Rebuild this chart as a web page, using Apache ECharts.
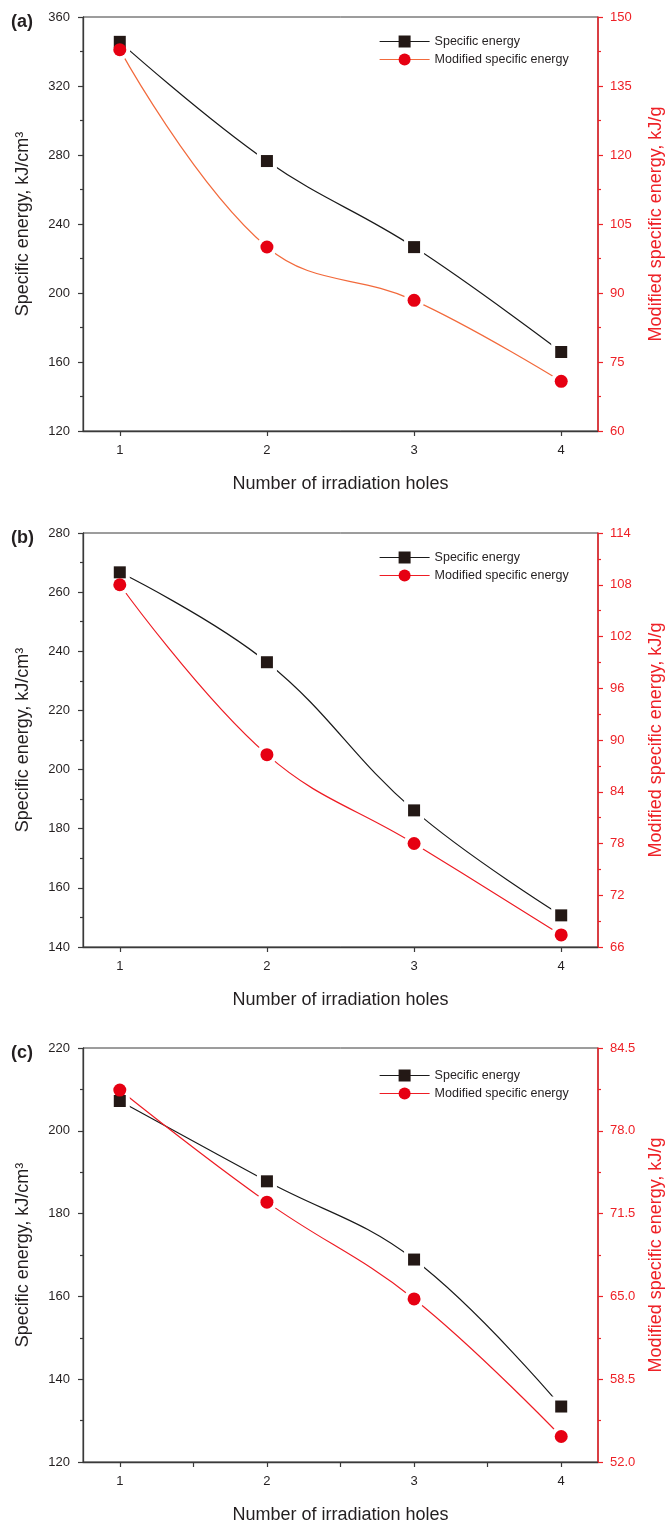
<!DOCTYPE html>
<html>
<head>
<meta charset="utf-8">
<script src="https://cdn.jsdelivr.net/npm/echarts@6/dist/echarts.min.js"></script>
<style>
html,body{margin:0;padding:0;background:#fff;}
#chart{width:669px;height:1525px;}
</style>
</head>
<body>
<div id="chart"></div>
<script>
// ---- data ----
const holes = [1, 2, 3, 4];
const xTicksMajor = [1, 2, 3, 4];
const xTicksC = [1, 1.5, 2, 2.5, 3, 3.5, 4];
const panelLabels = ['(a)', '(b)', '(c)'];
const seriesNames = ['Specific energy', 'Modified specific energy'];
const xTitle = 'Number of irradiation holes';
const leftTitle = 'Specific energy, kJ/cm³';
const rightTitle = 'Modified specific energy, kJ/g';

const specificA = [345.6, 276.5, 226.6, 165.8];
const modifiedA = [142.9, 100.0, 88.4, 70.8];
const specificB = [266.7, 236.3, 186.2, 150.7];
const modifiedB = [108.0, 88.3, 78.0, 67.4];
const specificC = [207.2, 187.8, 168.9, 133.4];
const modifiedC = [81.2, 72.4, 64.8, 54.0];

// axis ranges [min, max, interval]
const leftRangeA = [120, 360, 40];
const rightRangeA = [60, 150, 15];
const leftRangeB = [140, 280, 20];
const rightRangeB = [66, 114, 6];
const leftRangeC = [120, 220, 20];
const rightRangeC = [52, 84.5, 6.5];

// ---- styling ----
const FONT = '"Liberation Sans", Arial, sans-serif';
const DARK = '#231f20';
const RED = '#ee2127';
const MARK_RED = '#e60012';
const SQUARE = '#231815';
const panels = [
  {spec: specificA, mod: modifiedA, left: leftRangeA, right: rightRangeA, top: 17, modLine: '#f26a3c', xt: xTicksMajor, legendTop: 35, labelTop: 13, rightDec: 0},
  {spec: specificB, mod: modifiedB, left: leftRangeB, right: rightRangeB, top: 533, modLine: '#ee1c24', xt: xTicksMajor, legendTop: 551, labelTop: 529, rightDec: 0},
  {spec: specificC, mod: modifiedC, left: leftRangeC, right: rightRangeC, top: 1048, modLine: '#ee1c24', xt: xTicksC, legendTop: 1069, labelTop: 1044, rightDec: 1}
];
const PLOT_H = 414;

const option = {
  animation: false,
  backgroundColor: '#fff',
  textStyle: {fontFamily: FONT},
  title: [], legend: [], grid: [], xAxis: [], yAxis: [], series: []
};

panels.forEach((p, i) => {
  option.title.push({
    text: panelLabels[i], left: 11, top: p.labelTop, padding: 0,
    textStyle: {fontFamily: FONT, fontSize: 18, fontWeight: 'bold', color: DARK}
  });
  option.grid.push({
    left: 83, width: 515, top: p.top, height: PLOT_H,
    containLabel: false, outerBoundsMode: 'none',
    show: true, borderColor: '#3a3a3a', borderWidth: 1, backgroundColor: 'transparent'
  });
  option.xAxis.push({
    type: 'value', gridIndex: i, min: 0.75, max: 4.25,
    name: xTitle, nameLocation: 'middle', nameGap: 44,
    nameTextStyle: {fontFamily: FONT, fontSize: 18, color: DARK},
    axisLine: {show: true, onZero: false, lineStyle: {color: '#3a3a3a', width: 1.3}},
    axisTick: {show: true, inside: false, length: 5, customValues: p.xt, lineStyle: {color: '#3a3a3a', width: 1.2}},
    axisLabel: {show: true, margin: 13, customValues: xTicksMajor, fontFamily: FONT, fontSize: 13, color: DARK},
    splitLine: {show: false}
  });
  option.yAxis.push({
    type: 'value', gridIndex: i, position: 'left',
    min: p.left[0], max: p.left[1], interval: p.left[2],
    name: leftTitle, nameLocation: 'middle', nameGap: 51,
    nameTextStyle: {fontFamily: FONT, fontSize: 18, color: DARK},
    axisLine: {show: true, lineStyle: {color: '#3a3a3a', width: 1.3}},
    axisTick: {show: true, inside: false, length: 5, lineStyle: {color: '#3a3a3a', width: 1.2}},
    minorTick: {show: true, splitNumber: 2, length: 3, lineStyle: {color: '#3a3a3a', width: 1.2}},
    axisLabel: {margin: 13, fontFamily: FONT, fontSize: 13, color: DARK},
    splitLine: {show: false}
  });
  option.yAxis.push({
    type: 'value', gridIndex: i, position: 'right',
    min: p.right[0], max: p.right[1], interval: p.right[2],
    name: rightTitle, nameLocation: 'middle', nameGap: 49,
    nameTextStyle: {fontFamily: FONT, fontSize: 18, color: RED},
    axisLine: {show: true, lineStyle: {color: RED, width: 1.5}},
    axisTick: {show: true, inside: false, length: 5, lineStyle: {color: RED, width: 1.2}},
    minorTick: {show: true, splitNumber: 2, length: 3, lineStyle: {color: RED, width: 1.2}},
    axisLabel: {margin: 12, fontFamily: FONT, fontSize: 13, color: RED,
      formatter: v => p.rightDec ? v.toFixed(p.rightDec) : String(v)},
    splitLine: {show: false}
  });
  const specData = holes.map((h, k) => [h, p.spec[k]]);
  const modData = holes.map((h, k) => [h, p.mod[k]]);
  const xi = i, yl = 2 * i, yr = 2 * i + 1;
  // lines
  option.series.push({
    name: seriesNames[0], type: 'line', xAxisIndex: xi, yAxisIndex: yl, data: specData,
    smooth: 0.4, symbol: 'rect', symbolSize: 12, showSymbol: false, z: 2,
    itemStyle: {color: SQUARE}, lineStyle: {color: '#1a1a1a', width: 1.2}
  });
  option.series.push({
    name: seriesNames[1], type: 'line', xAxisIndex: xi, yAxisIndex: yr, data: modData,
    smooth: 0.4, symbol: 'circle', symbolSize: 13, showSymbol: false, z: 2,
    itemStyle: {color: MARK_RED}, lineStyle: {color: p.modLine, width: 1.2}
  });
  // white halos (gap between line and marker)
  option.series.push({
    name: 'halo-s' + i, type: 'scatter', xAxisIndex: xi, yAxisIndex: yl, data: specData,
    symbol: 'rect', symbolSize: 20, z: 3, itemStyle: {color: '#fff', opacity: 1}, silent: true
  });
  option.series.push({
    name: 'halo-m' + i, type: 'scatter', xAxisIndex: xi, yAxisIndex: yr, data: modData,
    symbol: 'circle', symbolSize: 21, z: 3, itemStyle: {color: '#fff', opacity: 1}, silent: true
  });
  // markers
  option.series.push({
    name: seriesNames[0], type: 'scatter', xAxisIndex: xi, yAxisIndex: yl, data: specData,
    symbol: 'rect', symbolSize: 12, z: 4, itemStyle: {color: SQUARE, opacity: 1}
  });
  option.series.push({
    name: seriesNames[1], type: 'scatter', xAxisIndex: xi, yAxisIndex: yr, data: modData,
    symbol: 'circle', symbolSize: 13, z: 4, itemStyle: {color: MARK_RED, opacity: 1}
  });
  option.legend.push({
    orient: 'vertical', left: 379, top: p.legendTop, padding: 0,
    itemWidth: 50, itemHeight: 15, itemGap: 5, selectedMode: false,
    textStyle: {fontFamily: FONT, fontSize: 12.5, color: DARK},
    data: [
      {name: seriesNames[0], lineStyle: {color: '#1a1a1a', width: 1.2}, itemStyle: {color: SQUARE}},
      {name: seriesNames[1], lineStyle: {color: p.modLine, width: 1.2}, itemStyle: {color: MARK_RED}}
    ]
  });
});

const chart = echarts.init(document.getElementById('chart'), null, {renderer: 'canvas'});
chart.setOption(option);
</script>
</body>
</html>
